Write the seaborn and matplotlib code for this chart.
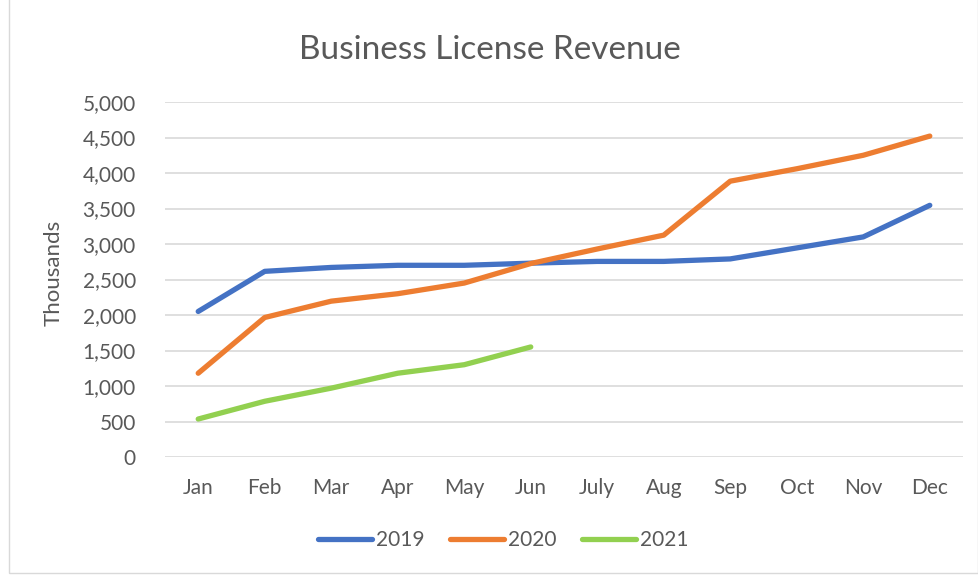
import matplotlib
matplotlib.use("Agg")
import matplotlib.pyplot as plt
import matplotlib.ticker as mticker
from matplotlib.patches import Rectangle
import pandas as pd
import seaborn as sns

months = ["Jan", "Feb", "Mar", "Apr", "May", "Jun",
          "July", "Aug", "Sep", "Oct", "Nov", "Dec"]
rev_2019 = [2050, 2615, 2670, 2700, 2700, 2730, 2755, 2755, 2790, 2945, 3100, 3545]
rev_2020 = [1180, 1965, 2195, 2300, 2450, 2725, 2930, 3125, 3885, 4060, 4250, 4520]
rev_2021 = [535, 785, 970, 1180, 1300, 1550]
years = ["2019", "2020", "2021"]
colors = ["#4472C4", "#ED7D31", "#92D050"]

rows = []
for year, vals in zip(years, [rev_2019, rev_2020, rev_2021]):
    for i, v in enumerate(vals):
        rows.append({"month": i, "year": year, "rev": v})
df = pd.DataFrame(rows)

sns.set_theme(style="white")
plt.rcParams["font.family"] = ["Lato", "DejaVu Sans"]
text_col = "#595959"

fig = plt.figure(figsize=(9.79, 5.75), dpi=100)
ax = fig.add_axes([0.1685, 0.2052, 0.8152, 0.6174])

sns.lineplot(data=df, x="month", y="rev", hue="year",
             palette=dict(zip(years, colors)), linewidth=3.8,
             ax=ax, legend=False, zorder=3)
for ln in ax.lines:
    ln.set_solid_capstyle("round")
    ln.set_solid_joinstyle("round")

ax.set_xlim(-0.5, 11.5)
ax.set_ylim(0, 5000)
ax.set_yticks(range(0, 5001, 500))
ax.yaxis.set_major_formatter(mticker.FuncFormatter(lambda v, _: f"{int(v):,}"))
ax.set_xticks(range(12))
ax.set_xticklabels(months)
ax.grid(axis="y", color="#D9D9D9", linewidth=1.2)
ax.grid(axis="x", visible=False)
for s in ax.spines.values():
    s.set_visible(False)
ax.tick_params(axis="both", length=0, labelsize=15, colors=text_col)
ax.tick_params(axis="x", pad=15)
ax.tick_params(axis="y", pad=21)
ax.set_xlabel("")
ax.set_ylabel("Thousands", fontsize=16, color=text_col)
ax.yaxis.set_label_coords(-0.127, 0.52)
fig.text(0.5, 0.913, "Business License Revenue", ha="center", va="center",
         fontsize=24, color=text_col)

handles = [plt.Line2D([0], [0], color=c, linewidth=3.8, solid_capstyle="round")
           for c in colors]
fig.legend(handles, years, loc="center", bbox_to_anchor=(0.514, 0.061),
           ncol=3, frameon=False, fontsize=15, handlelength=2.6,
           columnspacing=1.2, handletextpad=0.2, labelcolor=text_col)

fig.patches.append(Rectangle((0.009, 0.003), 0.99, 1.2, transform=fig.transFigure,
                             fill=False, edgecolor="#D9D9D9", linewidth=1))

fig.savefig("out.png", dpi=100)
